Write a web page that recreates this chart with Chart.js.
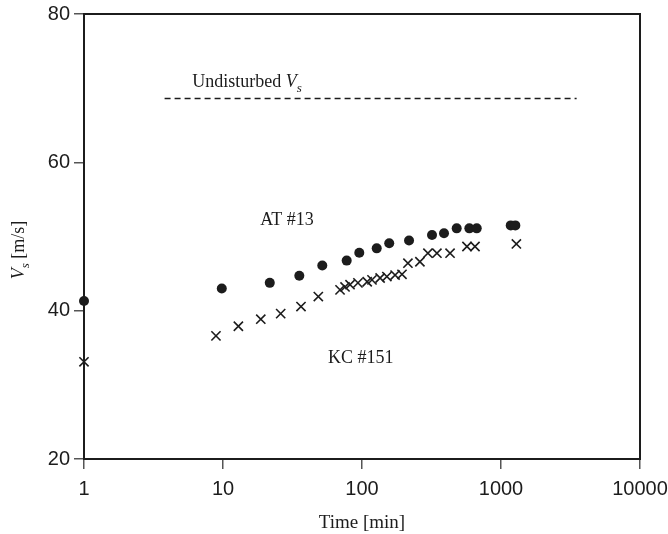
<!DOCTYPE html>
<html>
<head>
<meta charset="utf-8">
<script src="https://cdn.jsdelivr.net/npm/chart.js@4/dist/chart.umd.min.js"></script>
<style>
  html, body { margin: 0; padding: 0; background: #fff; }
  #wrap { width: 668px; height: 534px; }
</style>
</head>
<body>
<div id="wrap"><canvas id="chart"></canvas></div>
<script>
// values
const atTime = [1, 9.8, 21.7, 35.4, 51.8, 77.6, 95.6, 127.6, 157, 218, 319, 389, 480, 592, 669, 1175, 1268];
const atVs = [41.3, 43.0, 43.75, 44.7, 46.1, 46.75, 47.8, 48.4, 49.1, 49.45, 50.2, 50.45, 51.1, 51.1, 51.1, 51.5, 51.5];

const kcTime = [1, 8.9, 12.9, 18.7, 26, 36.4, 48.5, 69.5, 75.5, 82, 93.5, 109, 118, 135, 151, 173, 194, 214, 261, 298, 346, 430, 569, 650, 1290];
const kcVs = [33.1, 36.6, 37.9, 38.85, 39.6, 40.55, 41.9, 42.8, 43.2, 43.5, 43.75, 43.9, 44.15, 44.4, 44.6, 44.8, 44.9, 46.4, 46.6, 47.75, 47.75, 47.75, 48.65, 48.65, 49.0];

const undisturbedTime = [3.8, 3500];
const undisturbedVs = [68.6, 68.6];

const xTicks = [1, 10, 100, 1000, 10000];
const yTicks = [20, 40, 60, 80];

const ink = '#1c1c1c';
const serif = '"Liberation Serif", "DejaVu Serif", serif';
const sans = '"Liberation Sans", Arial, sans-serif';

const toPoints = (xs, ys) => xs.map((x, i) => ({ x: x, y: ys[i] }));

// draws the frame, the annotations and the y title
const textPlugin = {
    id: 'textPlugin',
    afterDraw(chart) {
        const ctx = chart.ctx;
        const xs = chart.scales.x;
        const ys = chart.scales.y;
        const area = chart.chartArea;
        ctx.save();
        ctx.strokeStyle = ink;
        ctx.lineWidth = 2;
        ctx.strokeRect(area.left, area.top, area.right - area.left, area.bottom - area.top);

        ctx.fillStyle = ink;
        ctx.textBaseline = 'alphabetic';
        ctx.textAlign = 'left';

        // Undisturbed V_s
        let px = xs.getPixelForValue(6.0);
        let py = ys.getPixelForValue(70.2);
        ctx.font = '18px ' + serif;
        ctx.fillText('Undisturbed ', px, py);
        px += ctx.measureText('Undisturbed ').width;
        ctx.font = 'italic 18px ' + serif;
        ctx.fillText('V', px, py);
        px += ctx.measureText('V').width;
        ctx.font = 'italic 13px ' + serif;
        ctx.fillText('s', px, py + 5);

        ctx.font = '18px ' + serif;
        ctx.fillText('AT #13', xs.getPixelForValue(18.5), ys.getPixelForValue(51.6));
        ctx.fillText('KC #151', xs.getPixelForValue(56.9), ys.getPixelForValue(33.0));

        // y axis title
        ctx.translate(24, 250);
        ctx.rotate(-Math.PI / 2);
        const parts = [
            ['italic 18px ' + serif, 'V', 0],
            ['italic 13px ' + serif, 's', 5],
            ['18px ' + serif, ' [m/s]', 0]
        ];
        let total = 0;
        parts.forEach(p => { ctx.font = p[0]; total += ctx.measureText(p[1]).width; });
        let cx = -total / 2;
        parts.forEach(p => {
            ctx.font = p[0];
            ctx.fillText(p[1], cx, p[2]);
            cx += ctx.measureText(p[1]).width;
        });
        ctx.restore();
    }
};

new Chart(document.getElementById('chart'), {
    type: 'scatter',
    data: {
        datasets: [
            {
                label: 'AT #13',
                data: toPoints(atTime, atVs),
                pointStyle: 'circle',
                pointRadius: 5,
                backgroundColor: ink,
                borderColor: ink,
                borderWidth: 0,
                clip: false
            },
            {
                label: 'KC #151',
                data: toPoints(kcTime, kcVs),
                pointStyle: 'crossRot',
                pointRadius: 6.5,
                borderColor: ink,
                borderWidth: 1.6,
                clip: false
            },
            {
                label: 'Undisturbed Vs',
                type: 'line',
                data: toPoints(undisturbedTime, undisturbedVs),
                borderColor: ink,
                borderWidth: 1.6,
                borderDash: [6, 4],
                pointRadius: 0,
                fill: false
            }
        ]
    },
    options: {
        responsive: true,
        maintainAspectRatio: false,
        animation: false,
        layout: { padding: { top: 14, right: 28, left: 0, bottom: 0 } },
        plugins: {
            legend: { display: false },
            tooltip: { enabled: false }
        },
        scales: {
            x: {
                type: 'logarithmic',
                min: 1,
                max: 10000,
                afterBuildTicks: axis => { axis.ticks = xTicks.map(v => ({ value: v })); },
                afterFit: axis => {
                    axis.height = 75;
                    axis.paddingLeft = 0;
                    axis.paddingRight = 0;
                },
                ticks: {
                    color: ink,
                    font: { family: sans, size: 20 },
                    padding: 8,
                    maxRotation: 0,
                    callback: v => String(v)
                },
                grid: {
                    drawOnChartArea: false,
                    tickLength: 10,
                    color: '#555',
                    lineWidth: 1.5
                },
                border: { color: ink, width: 2 },
                title: {
                    display: true,
                    text: 'Time [min]',
                    color: ink,
                    font: { family: serif, size: 19 },
                    padding: { top: 6, bottom: 0 }
                }
            },
            y: {
                min: 20,
                max: 80,
                afterBuildTicks: axis => { axis.ticks = yTicks.map(v => ({ value: v })); },
                afterFit: axis => {
                    axis.width = 84;
                    axis.paddingTop = 0;
                    axis.paddingBottom = 0;
                },
                ticks: {
                    color: ink,
                    font: { family: sans, size: 20 },
                    padding: 4
                },
                grid: {
                    drawOnChartArea: false,
                    tickLength: 10,
                    color: '#555',
                    lineWidth: 1.5
                },
                border: { color: ink, width: 2 }
            }
        }
    },
    plugins: [textPlugin]
});
</script>
</body>
</html>
